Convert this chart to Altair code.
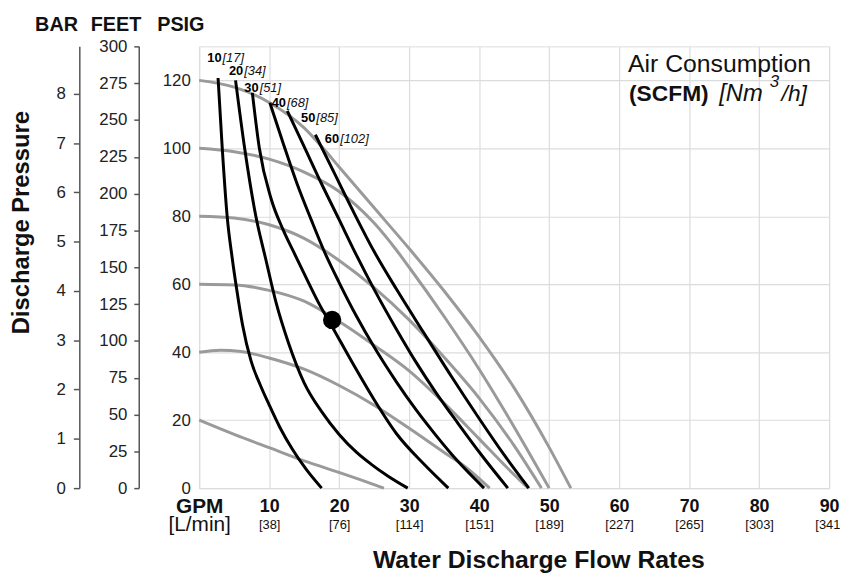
import altair as alt
import pandas as pd

# ---------------- data ----------------
# Gray curves: constant air inlet pressure (psig)
gray_names = ["120", "100", "80", "60", "40", "20"]
g120_gpm = [0, 5, 10, 15, 17.5, 20, 25, 30, 35, 40, 45, 50, 53.1]
g120_psi = [120, 118, 113.5, 106, 100.5, 94.5, 82.5, 70.5, 58, 44.5, 29.5, 12, 0]
g100_gpm = [0, 5, 10, 15, 20, 25, 28.2, 30, 35, 40, 45, 50]
g100_psi = [100, 99, 96.8, 93, 87.3, 78, 70, 65, 50.5, 35, 18, 0]
g80_gpm = [0, 5, 10, 15, 20, 25, 30, 35, 40, 45, 48.9]
g80_psi = [80, 79.5, 77.5, 73.5, 67, 59, 49.5, 38.5, 26.5, 12.5, 0]
g60_gpm = [0, 5, 10, 15, 20, 25, 30, 35, 40, 44, 47]
g60_psi = [60, 59.8, 58.2, 55, 49, 42, 34.5, 25, 14.5, 6, 0]
g40_gpm = [0, 3, 6, 10, 15, 20, 25, 30, 35, 38, 41.5]
g40_psi = [40, 40.6, 40.2, 38.3, 35, 30.2, 24.4, 17.6, 10.5, 6.3, 0]
g20_gpm = [0, 5, 10, 15, 20, 23, 26.4]
g20_psi = [20, 15.8, 11.9, 8.0, 4.6, 2.5, 0]

# Black curves: air consumption (SCFM)
black_names = ["10", "20", "30", "40", "50", "60"]
b10_gpm = [2.7, 3.3, 4.0, 4.7, 5.4, 6.2, 7.4, 8.7, 10, 11.5, 13.3, 15.3, 17.5]
b10_psi = [120.7, 100, 80, 68, 58, 48, 37.5, 30.5, 24.5, 18, 11.5, 5.5, 0]
b20_gpm = [5.2, 6.5, 8.1, 9.5, 11, 12.8, 15, 17.5, 20, 22.5, 24.6, 27, 29.8]
b20_psi = [120, 100, 80, 67.5, 54.5, 42.5, 31, 22.5, 15.8, 10.5, 7, 3.5, 0]
b30_gpm = [7.6, 8.6, 10.3, 12, 13.5, 15.5, 17.2, 19, 22, 25, 28.2, 32, 35.6]
b30_psi = [116.3, 100, 85, 76, 69.5, 61, 54, 47.5, 36.5, 26, 16, 7.3, 0]
b40_gpm = [10.1, 12, 14, 16, 17.8, 20, 22.5, 25, 28.2, 31, 33.8, 37, 40.7]
b40_psi = [113.4, 101.5, 89.5, 79, 70, 60.5, 50.5, 41.5, 31.2, 23, 15.6, 7.8, 0]
b50_gpm = [12.6, 15, 17.5, 20, 22, 25, 28.2, 31, 33.8, 37, 40.5, 44.1]
b50_psi = [111, 100.5, 89.5, 79, 70.5, 58.5, 46.7, 37, 28.2, 19, 9.3, 0]
b60_gpm = [16.6, 19, 22, 24.9, 28.2, 32, 36, 40, 43.5, 47.1]
b60_psi = [104, 94, 81.5, 70, 58.5, 46, 33, 20.5, 10, 0]

# Curve labels
lab_num = ["10", "20", "30", "40", "50", "60"]
lab_nm3 = ["[17]", "[34]", "[51]", "[68]", "[85]", "[102]"]
lab_gpm = [3.2, 6.3, 8.5, 12.4, 16.6, 20.0]
lab_psi = [126.5, 122.6, 117.8, 113.4, 109.0, 102.8]

# Operating point
dot_gpm = [19]
dot_psi = [49.5]

# Axis ticks / labels
gpm_grid = [0, 5, 10, 15, 20, 25, 30, 35, 40, 45, 50, 55, 60, 65, 70, 75, 80, 85, 90]
gpm_ticks = [10, 20, 30, 40, 50, 60, 70, 80, 90]
lpm_labels = ["[38]", "[76]", "[114]", "[151]", "[189]", "[227]", "[265]", "[303]", "[341]"]
psig_grid = [0, 10, 20, 30, 40, 50, 60, 70, 80, 90, 100, 110, 120, 130]
feet_ticks = [0, 25, 50, 75, 100, 125, 150, 175, 200, 225, 250, 275, 300]
bar_ticks = [0, 1, 2, 3, 4, 5, 6, 7, 8]
PSIG_MAX = 130
FEET_MAX = 300
BAR_MAX = 8.963

W, H = 636, 446
FONT = "Liberation Sans"


def build(names, gpms, psis):
    rows = []
    for n, gs, ps in zip(names, gpms, psis):
        for g, p in zip(gs, ps):
            rows.append({"curve": n, "gpm": g, "psi": p})
    return pd.DataFrame(rows)


gray_df = build(gray_names,
                [g120_gpm, g100_gpm, g80_gpm, g60_gpm, g40_gpm, g20_gpm],
                [g120_psi, g100_psi, g80_psi, g60_psi, g40_psi, g20_psi])
black_df = build(black_names,
                 [b10_gpm, b20_gpm, b30_gpm, b40_gpm, b50_gpm, b60_gpm],
                 [b10_psi, b20_psi, b30_psi, b40_psi, b50_psi, b60_psi])
lab_df = pd.DataFrame({"num": lab_num, "nm3": lab_nm3, "gpm": lab_gpm, "psi": lab_psi})
dot_df = pd.DataFrame({"gpm": dot_gpm, "psi": dot_psi})

xscale = alt.Scale(domain=[0, 90], nice=False, zero=True)
yscale = alt.Scale(domain=[0, PSIG_MAX], nice=False, zero=True)

x_main = alt.X(
    "gpm:Q", scale=xscale,
    axis=alt.Axis(
        orient="bottom", values=gpm_grid, title=None,
        labelExpr="datum.value == 0 ? 'GPM' : (datum.value % 10 == 0 ? datum.label : '')",
        grid=True, gridColor="#dcdcdc", gridWidth=1.2,
        domain=False, ticks=False, tickSize=0,
        labelPadding=19, labelBaseline="middle",
        labelFontSize={"condition": {"test": "datum.value == 0", "value": 21}, "value": 18},
        labelFontWeight="bold", labelColor="#111", labelFont=FONT,
        labelFlush=False, labelOverlap=False,
    ),
)
y_main = alt.Y(
    "psi:Q", scale=yscale,
    axis=alt.Axis(
        orient="left", values=psig_grid, title=None,
        labelExpr="datum.value % 20 == 0 && datum.value <= 120 ? datum.label : ''",
        grid=True, gridColor="#dcdcdc", gridWidth=1.2,
        domain=False, ticks=False, tickSize=0,
        labelPadding=9, labelFontSize=17, labelColor="#222", labelFont=FONT,
        labelFlush=False, labelOverlap=False,
    ),
)

gray = alt.Chart(gray_df).mark_line(
    color="#9a9a9a", strokeWidth=3, interpolate="monotone"
).encode(x=x_main, y=y_main, detail="curve:N")

black = alt.Chart(black_df).mark_line(
    color="#000000", strokeWidth=3, interpolate="monotone"
).encode(x=alt.X("gpm:Q", scale=xscale), y=alt.Y("psi:Q", scale=yscale), detail="curve:N")

dot = alt.Chart(dot_df).mark_point(
    filled=True, color="#000000", size=340, opacity=1
).encode(x=alt.X("gpm:Q", scale=xscale), y=alt.Y("psi:Q", scale=yscale))

lab_a = alt.Chart(lab_df).mark_text(
    align="right", baseline="middle", fontSize=13, fontWeight="bold", color="#000", font=FONT
).encode(x=alt.X("gpm:Q", scale=xscale), y=alt.Y("psi:Q", scale=yscale), text="num:N")

lab_b = alt.Chart(lab_df).mark_text(
    align="left", baseline="middle", fontSize=13, fontStyle="italic", color="#111", font=FONT, dx=1
).encode(x=alt.X("gpm:Q", scale=xscale), y=alt.Y("psi:Q", scale=yscale), text="nm3:N")

# Static texts
hdr_text = ["BAR", "FEET", "PSIG"]
hdr_x = [-144, -84, -18.5]
hdr_df = pd.DataFrame({"t": hdr_text, "px": hdr_x})
hdr = alt.Chart(hdr_df).mark_text(
    align="center", baseline="middle", fontSize=20, fontWeight="bold", color="#111", font=FONT
).encode(x=alt.X("px:Q", scale=None), y=alt.value(-22), text="t:N")


def static_text(txt, px, py, **kw):
    return alt.Chart(pd.DataFrame({"t": [txt]})).mark_text(font=FONT, color="#111", **kw).encode(
        x=alt.value(px), y=alt.value(py), text="t:N")


ytitle = static_text("Discharge Pressure", -179, 178, angle=270, align="center",
                     baseline="middle", fontSize=24, fontWeight="bold")
xtitle = static_text("Water Discharge Flow Rates", 343, 519, align="center",
                     baseline="middle", fontSize=25, fontWeight="bold")
leg1 = static_text("Air Consumption", 433, 18, align="left", baseline="middle", fontSize=25)
leg2 = static_text("(SCFM)", 434, 48, align="left", baseline="middle", fontSize=23, fontWeight="bold")
leg3 = static_text("[Nm", 525, 48, align="left", baseline="middle", fontSize=24, fontStyle="italic")
leg4 = static_text("3", 576, 36, align="left", baseline="middle", fontSize=17, fontStyle="italic")
leg5 = static_text("/h]", 588, 48, align="left", baseline="middle", fontSize=23, fontStyle="italic")

main = alt.layer(gray, black, dot, lab_a, lab_b, hdr, ytitle, xtitle, leg1, leg2, leg3, leg4, leg5)

# Secondary pressure axes
feet_layer = alt.Chart(pd.DataFrame({"feet": feet_ticks})).mark_point(opacity=0).encode(
    x=alt.value(0),
    y=alt.Y("feet:Q", scale=alt.Scale(domain=[0, FEET_MAX], nice=False, zero=True),
            axis=alt.Axis(orient="left", offset=61, values=feet_ticks, title=None, grid=False,
                          domainColor="#555", domainWidth=1.5, tickColor="#555", tickWidth=1.5,
                          tickSize=5, labelPadding=7, labelFontSize=17, labelColor="#222",
                          labelFont=FONT, labelFlush=False, labelOverlap=False)),
)
bar_layer = alt.Chart(pd.DataFrame({"bar": bar_ticks})).mark_point(opacity=0).encode(
    x=alt.value(0),
    y=alt.Y("bar:Q", scale=alt.Scale(domain=[0, BAR_MAX], nice=False, zero=True),
            axis=alt.Axis(orient="left", offset=121, values=bar_ticks, title=None, grid=False,
                          domainColor="#555", domainWidth=1.5, tickColor="#555", tickWidth=1.5,
                          tickSize=6, labelPadding=8, labelFontSize=17, labelColor="#222",
                          labelFont=FONT, labelFlush=False, labelOverlap=False)),
)

lpm_expr = "datum.value == 0 ? '[L/min]' : " + " : ".join(
    f"datum.value == {v} ? '{l}'" for v, l in zip(gpm_ticks, lpm_labels)) + " : ''"
lpm_layer = alt.Chart(pd.DataFrame({"gpm": [0] + gpm_ticks})).mark_point(opacity=0).encode(
    y=alt.value(0),
    x=alt.X("gpm:Q", scale=xscale,
            axis=alt.Axis(orient="bottom", values=[0] + gpm_ticks, title=None, grid=False,
                          domain=False, ticks=False, tickSize=0, labelExpr=lpm_expr,
                          labelPadding=37, labelBaseline="middle",
                          labelFontSize={"condition": {"test": "datum.value == 0", "value": 21}, "value": 13},
                          labelColor="#111", labelFont=FONT, labelFlush=False, labelOverlap=False)),
)

chart = alt.layer(main, feet_layer, bar_layer, lpm_layer).resolve_scale(
    y="independent"
).resolve_axis(
    x="independent", y="independent"
).properties(
    width=W, height=H,
    autosize=alt.AutoSizeParams(type="none"),
    padding={"left": 193, "top": 36, "right": 11, "bottom": 88},
).configure_view(stroke=None).configure(font=FONT)

chart.save("out.html", embed_options={"renderer": "svg", "actions": False})
